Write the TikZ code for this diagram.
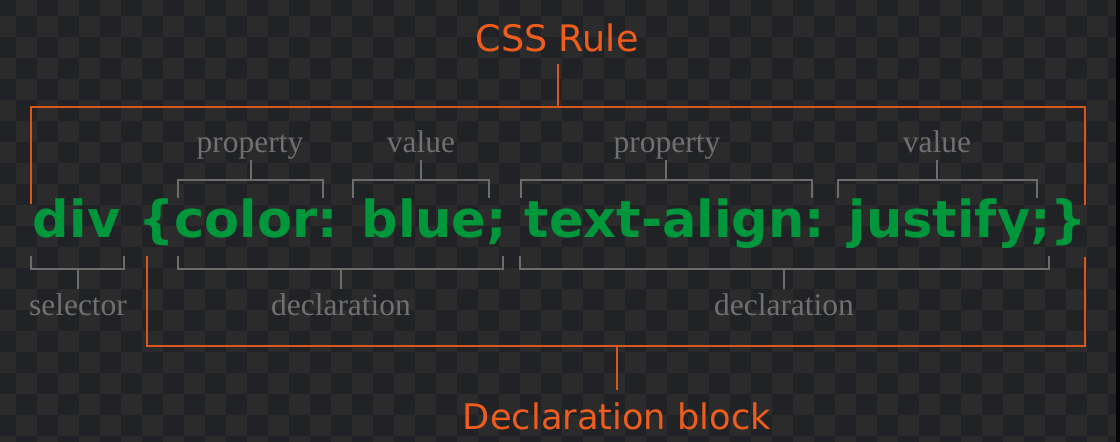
\documentclass[tikz,border=0pt]{standalone}
\usepackage{fontspec}
\usepackage{graphicx}
\newfontfamily\dvs{DejaVu Sans}
\newfontfamily\libserif{Liberation Serif}
\definecolor{bgdark}{HTML}{212226}
\definecolor{bglight}{HTML}{2B2B2B}
\definecolor{rulecol}{HTML}{EE5D1E}
\definecolor{linecol}{HTML}{D9561D}
\definecolor{codegreen}{HTML}{00963C}
\definecolor{labelgray}{HTML}{707070}
\definecolor{bracketgray}{HTML}{6C6C6C}
\tikzset{
  orangeline/.style={draw=linecol, line width=1.5pt},
  graybracket/.style={draw=bracketgray, line width=1.1pt},
  titletext/.style={inner sep=0pt, anchor=base, text=rulecol, font=\dvs},
  labeltext/.style={inner sep=0pt, anchor=base, text=labelgray, font=\libserif\fontsize{23.6}{28}\selectfont},
  codetext/.style={inner sep=0pt, anchor=base, text=codegreen, font=\dvs\bfseries}
}
\begin{document}
\begin{tikzpicture}[x=0.75pt,y=-0.75pt]
\useasboundingbox (0,0) rectangle (1120,442);
% background checkerboard
\begin{scope}
  \clip (0,0) rectangle (1120,442);
  \fill[bgdark] (0,0) rectangle (1120,442);
  \foreach \i in {0,...,53}{
    \foreach \j in {0,...,21}{
      \pgfmathtruncatemacro\odd{mod(\i+\j,2)}
      \ifnum\odd=1
        \fill[bglight] (-5+21*\i,-5+21*\j) rectangle ++(21,21);
      \fi
    }
  }
  \fill[black!85!bgdark] (1116,0) rectangle (1120,442);
\end{scope}

% texts
\node[titletext] (rule) at (557,52) {\resizebox{122.2pt}{!}{CSS Rule}};
\node[codetext] (code) at (560,237) {\resizebox{790.5pt}{!}{div \{color: blue; text-align: justify;\}}};
\node[labeltext] (prop1) at (250,153) {property};
\node[labeltext] (val1) at (421,153) {value};
\node[labeltext] (prop2) at (667,153) {property};
\node[labeltext] (val2) at (937,153) {value};
\node[labeltext] (sel) at (78,315) {selector};
\node[labeltext] (decl1) at (341,315) {declaration};
\node[labeltext] (decl2) at (784,315) {declaration};
\node[titletext] (block) at (617,429) {\resizebox{231pt}{!}{Declaration block}};

% stem end coordinates
\coordinate (ruletip) at (558,64);
\coordinate (blocktip) at (617,390);
\coordinate (p1tip) at (251,160);
\coordinate (v1tip) at (421,160);
\coordinate (p2tip) at (666,160);
\coordinate (v2tip) at (937,160);
\coordinate (seltip) at (78,289);
\coordinate (d1tip) at (341,289);
\coordinate (d2tip) at (784,289);

% orange brackets
\draw[orangeline] (31,204) -- (31,107) -- (1085,107) -- (1085,205);
\draw[orangeline] (558,107) -- (ruletip);
\draw[orangeline] (147,256) -- (147,346) -- (1085,346) -- (1085,257);
\draw[orangeline] (617,346) -- (blocktip);

% gray brackets above
\draw[graybracket] (178,198) -- (178,180) -- (323,180) -- (323,198);
\draw[graybracket] (251,180) -- (p1tip);
\draw[graybracket] (353,198) -- (353,180) -- (489,180) -- (489,198);
\draw[graybracket] (421,180) -- (v1tip);
\draw[graybracket] (521,198) -- (521,180) -- (812,180) -- (812,198);
\draw[graybracket] (666,180) -- (p2tip);
\draw[graybracket] (838,198) -- (838,180) -- (1037,180) -- (1037,198);
\draw[graybracket] (937,180) -- (v2tip);

% gray brackets below
\draw[graybracket] (31,256) -- (31,269) -- (124,269) -- (124,256);
\draw[graybracket] (78,269) -- (seltip);
\draw[graybracket] (178,256) -- (178,269) -- (503,269) -- (503,256);
\draw[graybracket] (341,269) -- (d1tip);
\draw[graybracket] (520,256) -- (520,269) -- (1049,269) -- (1049,256);
\draw[graybracket] (784,269) -- (d2tip);
\end{tikzpicture}
\end{document}
